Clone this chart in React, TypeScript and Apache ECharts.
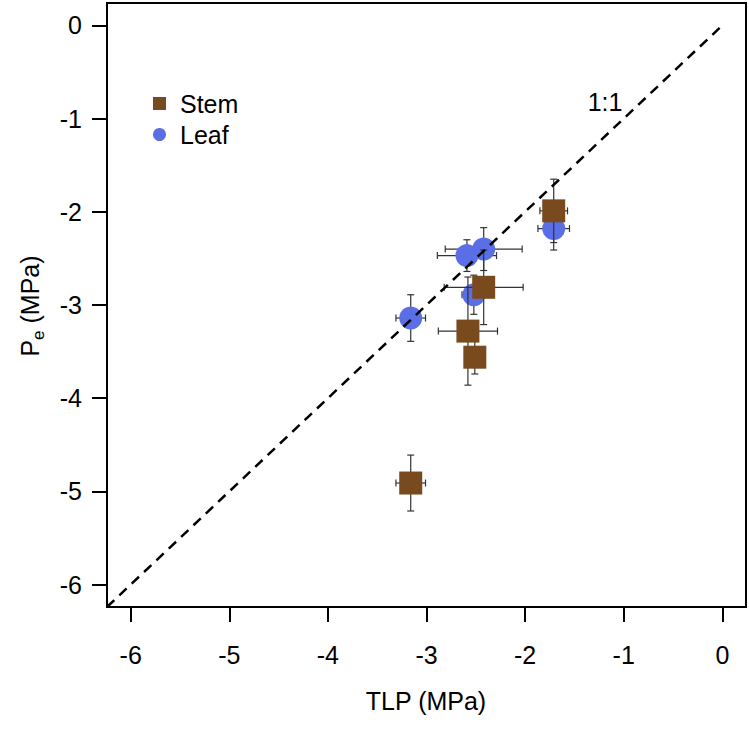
import React, { useEffect, useRef } from "react";
import * as echarts from "echarts";

// Stem (squares)
const stemTLP = [-1.71, -2.42, -2.58, -2.51, -3.16];
const stemPe = [-1.99, -2.81, -3.28, -3.56, -4.91];
const stemTLPErr = [0.14, 0.4, 0.3, 0.1, 0.15];
const stemPeErr = [0.34, 0.4, 0.58, 0.18, 0.3];

// Leaf (circles)
const leafTLP = [-1.71, -2.42, -2.59, -2.52, -3.16];
const leafPe = [-2.18, -2.4, -2.47, -2.89, -3.14];
const leafTLPErr = [0.16, 0.39, 0.3, 0.12, 0.15];
const leafPeErr = [0.23, 0.23, 0.17, 0.21, 0.25];

const tickValues = [-6, -5, -4, -3, -2, -1, 0];
const oneToOne = [-6.24, 0];

const STEM_COLOR = "#7A4A1F";
const LEAF_COLOR = "#5A6FE6";
const FONT = "Liberation Sans, Arial, sans-serif";
const FS = 25;

function errRender(params: any, api: any) {
  const x = api.value(0);
  const y = api.value(1);
  const xe = api.value(2);
  const ye = api.value(3);
  const c = api.coord([x, y]);
  const l = api.coord([x - xe, y]);
  const r = api.coord([x + xe, y]);
  const t = api.coord([x, y + ye]);
  const b = api.coord([x, y - ye]);
  const cap = 3.5;
  const style = { stroke: "#333", lineWidth: 1.2 };
  return {
    type: "group",
    children: [
      { type: "line", shape: { x1: l[0], y1: c[1], x2: r[0], y2: c[1] }, style },
      { type: "line", shape: { x1: l[0], y1: c[1] - cap, x2: l[0], y2: c[1] + cap }, style },
      { type: "line", shape: { x1: r[0], y1: c[1] - cap, x2: r[0], y2: c[1] + cap }, style },
      { type: "line", shape: { x1: c[0], y1: t[1], x2: c[0], y2: b[1] }, style },
      { type: "line", shape: { x1: c[0] - cap, y1: t[1], x2: c[0] + cap, y2: t[1] }, style },
      { type: "line", shape: { x1: c[0] - cap, y1: b[1], x2: c[0] + cap, y2: b[1] }, style },
    ],
  };
}

export default function App() {
  const ref = useRef<HTMLDivElement>(null);
  useEffect(() => {
    if (!ref.current) return;
    const chart = echarts.init(ref.current, null, { renderer: "svg" });
    const stemPts = stemTLP.map((x, i) => [x, stemPe[i]]);
    const leafPts = leafTLP.map((x, i) => [x, leafPe[i]]);
    const stemErr = stemTLP.map((x, i) => [x, stemPe[i], stemTLPErr[i], stemPeErr[i]]);
    const leafErr = leafTLP.map((x, i) => [x, leafPe[i], leafTLPErr[i], leafPeErr[i]]);

    const axisCommon = {
      type: "value",
      min: -6.24,
      max: 0.24,
      splitLine: { show: false },
      axisLine: { show: false, onZero: false },
      axisTick: {
        show: true,
        customValues: tickValues,
        length: 15,
        lineStyle: { color: "#000", width: 2 },
      },
    };

    chart.setOption({
      animation: false,
      backgroundColor: "#fff",
      grid: {
        left: 107,
        top: 3,
        right: 3,
        bottom: 124,
        show: true,
        borderColor: "#000",
        borderWidth: 2,
        backgroundColor: "transparent",
      },
      xAxis: {
        ...axisCommon,
        position: "bottom",
        axisLabel: {
          customValues: tickValues,
          fontSize: FS,
          color: "#000",
          fontFamily: FONT,
          margin: 35,
        },
      },
      yAxis: {
        ...axisCommon,
        position: "left",
        axisLabel: {
          customValues: tickValues,
          fontSize: FS,
          color: "#000",
          fontFamily: FONT,
          margin: 25,
        },
      },
      legend: {
        orient: "vertical",
        left: 148,
        top: 84,
        itemGap: 2,
        itemWidth: 13,
        itemHeight: 13,
        data: [
          { name: "Stem", icon: "rect" },
          { name: "Leaf", icon: "circle" },
        ],
        textStyle: {
          fontSize: FS,
          color: "#000",
          fontFamily: FONT,
          lineHeight: 29,
          padding: [0, 0, 0, 9],
        },
      },
      series: [
        {
          type: "custom",
          name: "LeafErr",
          renderItem: errRender,
          data: leafErr,
          encode: { x: 0, y: 1 },
          z: 2,
          silent: true,
        },
        {
          type: "scatter",
          name: "Leaf",
          data: leafPts,
          symbol: "circle",
          symbolSize: 23,
          itemStyle: { color: LEAF_COLOR, opacity: 1 },
          z: 3,
        },
        {
          type: "custom",
          name: "StemErr",
          renderItem: errRender,
          data: stemErr,
          encode: { x: 0, y: 1 },
          z: 4,
          silent: true,
        },
        {
          type: "scatter",
          name: "Stem",
          data: stemPts,
          symbol: "rect",
          symbolSize: 23,
          itemStyle: { color: STEM_COLOR, opacity: 1 },
          z: 5,
        },
        {
          type: "line",
          name: "1:1",
          data: oneToOne.map((v) => [v, v]),
          symbol: "none",
          lineStyle: { color: "#000", width: 2.5, type: [10, 7] },
          z: 6,
          silent: true,
        },
      ],
      graphic: [
        {
          type: "text",
          x: 605,
          y: 102,
          style: {
            text: "1:1",
            fontSize: FS,
            fontFamily: FONT,
            fill: "#000",
            align: "center",
            verticalAlign: "middle",
          },
        },
        {
          type: "text",
          x: 426,
          y: 701,
          style: {
            text: "TLP (MPa)",
            fontSize: FS,
            fontFamily: FONT,
            fill: "#000",
            align: "center",
            verticalAlign: "middle",
          },
        },
        {
          type: "text",
          x: 30,
          y: 306,
          rotation: Math.PI / 2,
          style: {
            text: "{p|P}{s|e}{p| (MPa)}",
            align: "center",
            verticalAlign: "middle",
            rich: {
              p: { fontSize: FS, fontFamily: FONT, fill: "#000", lineHeight: 34, verticalAlign: "middle" },
              s: { fontSize: 17, fontFamily: FONT, fill: "#000", lineHeight: 34, verticalAlign: "bottom" },
            },
          },
        },
      ],
    });
    return () => chart.dispose();
  }, []);
  return (
    <div
      ref={ref}
      style={{ position: "fixed", left: 0, top: 0, width: 749, height: 731 }}
    />
  );
}
